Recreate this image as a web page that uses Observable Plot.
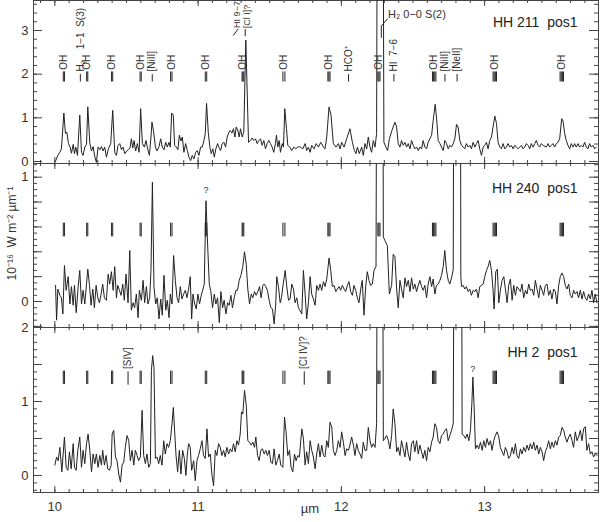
<!DOCTYPE html>
<html><head><meta charset="utf-8">
<script src="https://cdn.jsdelivr.net/npm/d3@7"></script>
<script src="https://cdn.jsdelivr.net/npm/@observablehq/plot@0.6"></script>
<style>
html,body{margin:0;padding:0;background:#fff;}
#chart{position:relative;width:600px;height:522px;overflow:hidden;}
</style></head><body><div id="chart"></div><script>
// ---------- data (wavelength µm, flux 1e-16 W m-2 µm-1) ----------
const hh211 = [
[10.005,0.01],[10.021,0.14],[10.035,0.21],[10.046,0.29],[10.063,1.11],[10.074,0.64],[10.084,0.67],[10.095,0.41],[10.107,0.33],[10.116,0.19],[10.128,0.39],[10.137,0.18],[10.146,0.33],[10.158,0.14],[10.174,1.06],[10.186,0.21],[10.197,0.14],[10.209,0.33],[10.221,0.39],[10.230,1.25],[10.244,0.42],[10.256,0.24],[10.267,0.34],[10.279,0.11],[10.290,-0.02],[10.302,0.33],[10.314,0.27],[10.325,0.34],[10.337,0.24],[10.348,0.33],[10.360,0.10],[10.374,0.29],[10.390,0.41],[10.404,1.17],[10.418,0.21],[10.430,0.14],[10.441,0.37],[10.453,0.41],[10.465,0.27],[10.476,0.33],[10.488,0.18],[10.502,0.24],[10.513,0.27],[10.525,0.31],[10.534,0.52],[10.544,0.31],[10.553,0.48],[10.564,0.24],[10.576,0.41],[10.588,0.21],[10.599,1.21],[10.611,0.41],[10.625,0.33],[10.636,0.48],[10.648,0.29],[10.660,0.14],[10.671,0.56],[10.678,0.90],[10.690,0.67],[10.702,0.33],[10.713,0.24],[10.727,0.34],[10.739,0.52],[10.750,0.33],[10.762,0.27],[10.774,0.44],[10.785,0.33],[10.797,0.44],[10.806,0.33],[10.815,1.11],[10.827,1.06],[10.836,0.37],[10.848,0.33],[10.859,0.27],[10.869,0.60],[10.880,0.47],[10.890,0.56],[10.901,0.21],[10.913,0.41],[10.925,0.25],[10.936,0.10],[10.948,0.02],[10.959,0.14],[10.971,0.06],[10.983,0.21],[10.994,0.25],[11.006,0.14],[11.017,0.33],[11.029,0.33],[11.041,0.48],[11.050,0.64],[11.059,1.33],[11.071,0.67],[11.082,0.33],[11.092,0.18],[11.103,0.29],[11.113,0.10],[11.124,0.29],[11.136,0.41],[11.145,0.33],[11.157,0.25],[11.168,0.41],[11.180,0.44],[11.192,0.33],[11.203,0.56],[11.215,0.67],[11.224,0.71],[11.236,0.65],[11.247,0.75],[11.257,0.56],[11.266,0.79],[11.278,0.70],[11.287,0.56],[11.296,0.75],[11.308,0.56],[11.319,0.67],[11.333,2.78],[11.352,0.44],[11.366,0.48],[11.377,0.54],[11.389,0.48],[11.401,0.52],[11.412,0.41],[11.424,0.48],[11.436,0.52],[11.447,0.37],[11.459,0.48],[11.470,0.29],[11.482,0.41],[11.494,0.48],[11.505,0.41],[11.517,0.33],[11.528,0.21],[11.540,0.41],[11.547,0.60],[11.556,0.33],[11.566,0.48],[11.575,0.21],[11.587,0.41],[11.596,0.33],[11.605,1.21],[11.617,0.75],[11.626,0.37],[11.640,0.33],[11.654,0.25],[11.668,0.33],[11.682,0.29],[11.696,0.33],[11.710,0.34],
[11.731,0.29],[11.747,0.41],[11.758,0.25],[11.770,0.33],[11.782,0.21],[11.793,0.37],[11.810,0.29],[11.824,0.41],[11.840,0.33],[11.856,0.44],[11.875,0.33],[11.886,0.29],[11.898,0.56],[11.914,1.25],[11.928,1.06],[11.944,0.41],[11.963,0.33],[11.979,0.41],[11.991,0.29],[12.002,0.44],[12.019,0.33],[12.037,0.52],[12.060,0.75],[12.077,0.44],[12.091,0.25],[12.102,0.18],[12.112,0.33],[12.125,0.18],[12.142,0.33],[12.153,0.14],[12.165,0.41],[12.177,0.29],[12.188,0.56],[12.200,0.33],[12.211,0.21],[12.223,0.48],[12.235,0.33],[12.246,0.64],[12.252,8],[12.290,8],[12.297,0.44],[12.311,0.33],[12.323,0.25],[12.335,0.52],[12.353,0.71],[12.374,0.90],[12.386,0.79],[12.397,0.41],[12.409,0.33],[12.420,0.48],[12.432,0.37],[12.444,0.44],[12.455,0.33],[12.467,0.41],[12.479,0.29],[12.490,0.48],[12.502,0.37],[12.513,0.29],[12.525,0.33],[12.537,0.25],[12.548,0.33],[12.560,0.29],[12.571,0.48],[12.583,0.33],[12.595,0.29],[12.606,0.44],[12.618,0.52],[12.630,0.60],[12.641,0.94],[12.655,1.31],[12.664,1.02],[12.676,0.48],[12.688,0.41],[12.699,0.33],[12.711,0.25],[12.722,0.48],[12.734,0.41],[12.746,0.29],[12.757,0.37],[12.769,0.33],[12.781,0.41],[12.792,0.52],[12.804,0.85],[12.815,0.79],[12.827,0.48],[12.839,0.37],[12.850,0.33],[12.862,0.29],[12.873,0.41],[12.885,0.33],[12.897,0.37],[12.908,0.29],[12.920,0.44],[12.932,0.33],[12.943,0.41],[12.955,0.48],[12.966,0.29],[12.978,0.14],[12.990,0.33],[13.001,0.37],[13.013,0.44],[13.024,0.29],[13.036,0.48],[13.048,0.56],[13.059,0.79],[13.071,1.04],[13.083,0.87],[13.094,0.44],[13.106,0.33],[13.117,0.29],[13.129,0.41],[13.141,0.29],[13.152,0.33],[13.164,0.41],[13.175,0.33],[13.187,0.37],[13.199,0.29],[13.210,0.37],[13.222,0.33],[13.233,0.29],[13.245,0.33],[13.257,0.37],[13.268,0.29],[13.280,0.33],[13.292,0.41],[13.303,0.37],[13.315,0.29],[13.326,0.41],[13.338,0.33],[13.350,0.41],[13.361,0.48],[13.373,0.37],[13.384,0.33],[13.396,0.41],[13.408,0.37],[13.431,0.33],[13.443,0.41],[13.454,0.33],[13.466,0.37],[13.477,0.41],[13.489,0.33],[13.501,0.41],[13.512,0.44],[13.524,0.52],[13.538,0.98],[13.547,0.93],[13.559,0.64],[13.570,0.48],[13.582,0.37],[13.594,0.29],[13.605,0.41],[13.617,0.33],[13.628,0.41],[13.640,0.33],[13.652,0.41],[13.663,0.33],[13.675,0.37],[13.686,0.33],[13.698,0.44],[13.710,0.33],[13.721,0.29],[13.733,0.41],[13.745,0.33],[13.756,0.37],[13.768,0.29],[13.779,0.33]
];
const hh240 = [
[10.005,0.13],[10.012,-0.15],[10.021,0.10],[10.035,0.05],[10.046,0.03],[10.056,-0.10],[10.067,0.29],[10.079,0.09],[10.093,0.20],[10.105,-0.02],[10.116,0.12],[10.128,-0.03],[10.137,0.13],[10.149,-0.09],[10.163,0.12],[10.174,0.25],[10.186,-0.02],[10.197,0.09],[10.209,-0.02],[10.221,0.14],[10.230,0.26],[10.242,0.13],[10.253,-0.03],[10.265,0.10],[10.276,-0.05],[10.288,0.13],[10.300,0.03],[10.311,-0.01],[10.323,0.06],[10.334,0.14],[10.346,0.03],[10.360,0.01],[10.372,0.22],[10.383,0.14],[10.395,0.24],[10.407,0.09],[10.418,0.28],[10.430,0.03],[10.439,0.13],[10.451,0.09],[10.462,0.05],[10.474,0.14],[10.485,0.01],[10.497,0.22],[10.511,-0.01],[10.523,0.41],[10.534,-0.07],[10.546,-0.01],[10.557,-0.05],[10.569,0.06],[10.581,-0.13],[10.590,0.09],[10.604,0.01],[10.616,0.17],[10.627,-0.01],[10.639,0.12],[10.650,-0.02],[10.662,0.03],[10.671,0.25],[10.681,0.96],[10.692,0.12],[10.704,-0.02],[10.715,0.03],[10.727,-0.14],[10.739,0.02],[10.750,-0.11],[10.762,0.21],[10.774,-0.07],[10.785,0.01],[10.797,-0.13],[10.806,0.06],[10.818,-0.02],[10.829,0.37],[10.841,0.17],[10.853,0.03],[10.864,-0.01],[10.876,0.12],[10.887,0.02],[10.899,0.06],[10.911,0.09],[10.922,0.03],[10.934,0.10],[10.945,0.20],[10.955,-0.14],[10.964,0.06],[10.976,-0.02],[10.987,-0.06],[10.999,0.06],[11.010,-0.02],[11.022,0.05],[11.034,0.10],[11.043,0.14],[11.055,0.81],[11.066,0.47],[11.078,0.14],[11.089,0.08],[11.101,-0.05],[11.113,0.06],[11.124,-0.02],[11.136,0.03],[11.148,-0.17],[11.159,0.08],[11.171,-0.05],[11.182,0.01],[11.194,-0.10],[11.206,-0.01],[11.217,-0.03],[11.229,0.05],[11.240,-0.05],[11.252,0.03],[11.264,0.09],[11.275,0.09],[11.287,0.17],[11.299,0.21],[11.312,0.28],[11.324,0.40],[11.336,0.30],[11.347,0.10],[11.359,-0.02],[11.371,0.06],[11.382,0.03],[11.394,0.08],[11.405,0.05],[11.417,0.08],[11.429,0.12],[11.440,0.03],[11.452,0.13],[11.461,0.14],[11.473,0.12],[11.484,0.09],[11.496,0.01],[11.508,-0.05],[11.519,-0.06],[11.531,-0.18],[11.542,-0.02],[11.549,0.20],[11.561,0.12],[11.573,-0.01],[11.582,0.03],[11.594,0.14],[11.608,0.25],[11.619,0.12],[11.631,0.01],[11.642,0.02],[11.654,0.14],[11.666,0.10],[11.677,-0.01],[11.689,0.03],[11.700,-0.05],
[11.724,-0.10],[11.735,0.25],[11.747,0.06],[11.758,-0.14],[11.770,-0.01],[11.782,0.20],[11.793,0.06],[11.805,0.02],[11.817,-0.03],[11.828,0.13],[11.840,0.09],[11.851,0.14],[11.863,0.09],[11.875,0.16],[11.886,0.12],[11.898,0.18],[11.914,0.35],[11.926,0.25],[11.937,0.12],[11.949,0.13],[11.961,0.08],[11.972,0.10],[11.984,0.12],[11.995,0.09],[12.007,0.13],[12.019,0.10],[12.030,0.08],[12.042,0.13],[12.053,0.16],[12.065,0.08],[12.077,0.05],[12.088,0.13],[12.100,0.09],[12.112,0.03],[12.123,-0.01],[12.135,0.10],[12.146,0.17],[12.158,-0.11],[12.170,0.12],[12.181,0.24],[12.193,0.17],[12.204,0.13],[12.216,0.14],[12.228,0.25],[12.242,0.28],[12.251,4],[12.286,4],[12.293,0.52],[12.304,0.49],[12.321,0.45],[12.335,0.06],[12.351,0.13],[12.362,0.38],[12.374,0.36],[12.386,0.10],[12.397,-0.05],[12.409,0.17],[12.420,0.10],[12.432,0.03],[12.444,0.19],[12.455,0.12],[12.467,0.17],[12.479,0.08],[12.490,0.19],[12.502,0.10],[12.513,0.14],[12.525,0.08],[12.537,0.13],[12.548,0.17],[12.560,0.12],[12.571,0.09],[12.583,0.13],[12.595,0.03],[12.606,0.14],[12.618,0.20],[12.630,0.12],[12.641,0.18],[12.653,0.06],[12.664,0.13],[12.676,0.14],[12.688,0.17],[12.699,0.21],[12.711,0.28],[12.722,0.41],[12.734,0.25],[12.746,0.17],[12.757,0.14],[12.769,0.19],[12.781,0.26],[12.788,4],[12.829,4],[12.834,0.20],[12.839,0.12],[12.850,0.13],[12.862,0.10],[12.873,0.12],[12.885,0.08],[12.897,0.10],[12.908,0.05],[12.920,0.09],[12.932,0.08],[12.943,0.10],[12.955,0.03],[12.966,0.12],[12.978,0.13],[12.990,0.14],[13.001,0.20],[13.013,0.25],[13.024,0.28],[13.036,0.33],[13.048,0.25],[13.059,0.09],[13.066,-0.06],[13.078,0.24],[13.089,0.26],[13.099,-0.01],[13.110,0.09],[13.122,0.17],[13.134,0.20],[13.145,0.10],[13.157,-0.01],[13.168,0.13],[13.180,0.18],[13.192,0.01],[13.203,0.13],[13.215,0.05],[13.226,0.12],[13.238,0.10],[13.250,0.08],[13.261,0.14],[13.273,0.03],[13.285,0.09],[13.296,0.06],[13.308,0.14],[13.319,0.09],[13.331,0.10],[13.343,0.05],[13.354,0.17],[13.366,0.10],[13.378,0.03],[13.389,0.13],[13.401,0.09],[13.412,0.05],[13.424,0.13],[13.436,0.14],[13.447,0.05],[13.459,0.09],[13.470,0.02],[13.482,0.10],[13.494,0.08],[13.505,-0.02],[13.517,0.13],[13.528,0.20],[13.540,0.23],[13.552,0.20],[13.563,0.13],[13.575,0.10],[13.587,0.14],[13.598,0.05],[13.610,0.03],[13.621,0.09],[13.633,0.06],[13.645,0.08],[13.656,0.03],[13.668,0.09],[13.680,0.02],[13.691,0.08],[13.703,0.03],[13.714,0.01],[13.726,0.06],[13.738,0.02],[13.749,0.09],[13.761,-0.01],[13.772,0.06],[13.784,-0.01]
];
const hh2 = [
[10.000,0.14],[10.012,0.25],[10.023,0.20],[10.035,0.38],[10.049,0.05],[10.058,0.29],[10.067,0.52],[10.079,0.11],[10.091,0.07],[10.102,0.32],[10.114,0.09],[10.128,0.43],[10.137,0.11],[10.149,0.07],[10.160,0.34],[10.174,0.52],[10.186,0.11],[10.197,0.34],[10.209,0.16],[10.221,0.43],[10.232,0.56],[10.244,0.34],[10.256,0.05],[10.267,0.29],[10.279,0.16],[10.290,0.29],[10.302,0.11],[10.314,0.27],[10.325,0.14],[10.334,0.34],[10.346,0.14],[10.358,0.27],[10.369,0.09],[10.381,0.07],[10.393,0.14],[10.400,0.56],[10.411,0.61],[10.423,0.25],[10.434,0.20],[10.446,0.02],[10.458,-0.09],[10.469,0.14],[10.481,0.18],[10.492,0.38],[10.504,0.54],[10.516,0.47],[10.527,0.20],[10.539,0.34],[10.551,0.14],[10.562,0.34],[10.574,0.27],[10.585,0.20],[10.597,0.25],[10.609,0.88],[10.620,0.27],[10.632,0.16],[10.643,0.29],[10.655,0.11],[10.667,0.16],[10.674,1.42],[10.683,1.62],[10.692,1.46],[10.702,0.23],[10.713,0.25],[10.725,0.16],[10.736,0.27],[10.748,0.14],[10.760,0.47],[10.771,0.29],[10.783,0.43],[10.794,0.38],[10.806,0.47],[10.818,0.70],[10.827,0.92],[10.836,0.61],[10.846,0.27],[10.857,0.05],[10.869,0.34],[10.880,0.02],[10.892,0.34],[10.904,0.23],[10.915,0.00],[10.925,0.29],[10.934,0.43],[10.945,0.38],[10.955,0.07],[10.969,0.20],[10.980,-0.07],[10.992,0.20],[11.003,0.27],[11.015,0.36],[11.027,0.47],[11.038,0.27],[11.050,0.23],[11.062,0.63],[11.073,0.25],[11.085,0.29],[11.096,0.02],[11.108,-0.14],[11.120,0.34],[11.131,0.27],[11.143,0.43],[11.155,0.38],[11.166,0.27],[11.178,0.34],[11.189,0.25],[11.201,0.38],[11.213,0.29],[11.224,0.36],[11.236,0.32],[11.247,0.43],[11.259,0.32],[11.271,0.47],[11.282,0.41],[11.294,0.56],[11.303,0.86],[11.312,0.83],[11.324,1.15],[11.336,0.95],[11.347,0.47],[11.359,0.45],[11.371,0.41],[11.382,0.45],[11.394,0.38],[11.403,0.52],[11.415,0.27],[11.426,0.20],[11.438,0.34],[11.449,0.36],[11.461,0.29],[11.473,0.34],[11.484,0.27],[11.496,0.34],[11.508,0.18],[11.519,0.16],[11.531,0.36],[11.542,0.14],[11.554,0.20],[11.566,0.29],[11.577,0.14],[11.592,0.11],[11.603,0.79],[11.614,0.59],[11.626,0.27],[11.638,0.34],[11.649,0.11],[11.661,0.05],[11.673,0.29],[11.684,0.20],[11.696,0.27],[11.707,0.25],
[11.724,0.63],[11.735,0.50],[11.747,0.14],[11.758,0.32],[11.770,0.16],[11.782,0.47],[11.793,0.34],[11.805,0.25],[11.817,0.09],[11.828,0.29],[11.840,0.43],[11.851,0.25],[11.863,0.41],[11.875,0.27],[11.886,0.25],[11.898,0.47],[11.909,0.38],[11.921,0.72],[11.933,0.65],[11.944,0.34],[11.956,0.27],[11.968,0.34],[11.979,0.47],[11.991,0.38],[12.002,0.59],[12.014,0.45],[12.026,0.27],[12.037,0.36],[12.049,0.34],[12.060,0.41],[12.072,0.52],[12.084,0.41],[12.095,0.27],[12.107,0.43],[12.118,0.34],[12.130,0.29],[12.142,0.23],[12.153,0.45],[12.165,0.34],[12.177,0.34],[12.188,0.65],[12.200,0.47],[12.211,0.38],[12.223,0.43],[12.235,0.38],[12.246,0.70],[12.251,4],[12.288,4],[12.293,0.47],[12.304,0.50],[12.316,0.54],[12.328,0.47],[12.339,0.36],[12.351,0.54],[12.362,0.90],[12.374,0.70],[12.386,0.32],[12.397,0.38],[12.409,0.27],[12.420,0.47],[12.432,0.36],[12.444,0.25],[12.455,0.45],[12.467,0.29],[12.479,0.20],[12.490,0.43],[12.502,0.47],[12.513,0.32],[12.525,0.47],[12.537,0.29],[12.548,0.41],[12.560,0.32],[12.571,0.23],[12.583,0.34],[12.595,0.20],[12.606,0.38],[12.618,0.32],[12.630,0.45],[12.641,0.52],[12.653,0.70],[12.664,0.65],[12.676,0.47],[12.688,0.43],[12.699,0.54],[12.711,0.56],[12.722,0.61],[12.734,0.63],[12.746,0.47],[12.757,0.54],[12.769,0.61],[12.781,0.70],[12.788,4],[12.839,4],[12.843,0.56],[12.855,0.54],[12.866,0.50],[12.878,0.56],[12.890,0.47],[12.901,0.61],[12.911,0.97],[12.918,1.33],[12.927,0.92],[12.936,0.36],[12.948,0.41],[12.959,0.36],[12.971,0.45],[12.983,0.34],[12.994,0.47],[13.006,0.38],[13.017,0.50],[13.029,0.41],[13.041,0.47],[13.052,0.34],[13.064,0.47],[13.075,0.54],[13.087,0.59],[13.099,0.52],[13.110,0.38],[13.122,0.32],[13.134,0.27],[13.145,0.38],[13.157,0.32],[13.168,0.23],[13.180,0.27],[13.192,0.38],[13.203,0.29],[13.215,0.43],[13.226,0.27],[13.238,0.23],[13.250,0.36],[13.261,0.29],[13.273,0.38],[13.285,0.32],[13.296,0.41],[13.308,0.34],[13.319,0.43],[13.331,0.36],[13.343,0.45],[13.354,0.34],[13.366,0.41],[13.378,0.29],[13.389,0.38],[13.401,0.32],[13.412,0.20],[13.424,0.32],[13.436,0.38],[13.447,0.47],[13.459,0.36],[13.470,0.45],[13.482,0.38],[13.494,0.47],[13.505,0.41],[13.517,0.52],[13.528,0.54],[13.540,0.65],[13.552,0.61],[13.563,0.52],[13.575,0.45],[13.587,0.52],[13.598,0.56],[13.610,0.47],[13.621,0.38],[13.633,0.59],[13.645,0.47],[13.656,0.52],[13.668,0.61],[13.680,0.47],[13.691,0.63],[13.703,0.66],[13.714,0.34],[13.726,0.43],[13.738,0.29],[13.749,0.32],[13.761,0.25],[13.772,0.29],[13.786,0.27]
];
// OH line groups (µm)
const ohGroups = [
  [10.059,10.067],[10.222,10.230],[10.396,10.404],[10.595,10.603],[10.808,10.818],
  [11.050,11.060],[11.307,11.313,11.319],[11.592,11.606],[11.906,11.913,11.921],
  [12.255,12.262,12.270],[12.636,12.644,12.652,12.660],[13.059,13.067,13.075,13.083],
  [13.527,13.535,13.543,13.551]
];
// single line identifications (panel HH 211)
const p1Lines = [
  {wl:10.178, label:"H\u2082\u00a0\u00a0\u00a0\u00a01\u22121\u00a0\u00a0S(3)"},
  {wl:10.680, label:"[NiII]"},
  {wl:12.050, label:"HCO\u207a"},
  {wl:12.367, label:"HI\u00a0\u00a07\u22126"},
  {wl:12.723, label:"[NiII]"},
  {wl:12.808, label:"[NeII]"}
];
const p3Lines = [
  {wl:10.511, label:"[SIV]"},
  {wl:11.741, label:"[Cl IV]?"}
];
const titles = ["HH 211\u00a0\u00a0pos1", "HH 240\u00a0\u00a0pos1", "HH 2\u00a0\u00a0pos1"];
const xTickLabels = [10, 11, 12, 13];
const yLabel = "10\u207b\u00b9\u2076\u00a0\u00a0W m\u207b\u00b2 \u00b5m\u207b\u00b9";

// ---------- layout ----------
const W = 600, ML = 33, MR = 2;
const X_DOMAIN = [9.851, 13.795];
const AX = "#444", INK = "#222";
const FONT = "'Liberation Sans', Arial, Helvetica, sans-serif";
const fmt = d => String(d);
const xMinor = d3.range(99, 139).map(i => i / 10).filter(v => v >= X_DOMAIN[0] && v <= X_DOMAIN[1]);
const ohFlat = ohGroups.flat();
const ohCenters = ohGroups.map(g => d3.mean(g));

function ticks(lo, hi, step) {
  const out = [];
  const n = Math.round((hi - lo) / step);
  for (let i = 0; i <= n; i++) out.push(+(lo + i * step).toFixed(4));
  return out;
}

function panel(o) {
  const plotH = o.height - o.marginBottom;
  const plotW = W - ML - MR;
  const inY = v => v >= o.yDomain[0] - 1e-9 && v <= o.yDomain[1] + 1e-9;
  const yMaj = o.yMajor.filter(inY), yMin = o.yMinor.filter(inY);
  const marks = [
    Plot.ruleX(xMinor, {insetTop: plotH - 3, stroke: AX}),
    Plot.ruleX(xTickLabels, {insetTop: plotH - 6, stroke: AX}),
    Plot.ruleX(xMinor, {insetBottom: plotH - 3, stroke: AX}),
    Plot.ruleX(xTickLabels, {insetBottom: plotH - 6, stroke: AX}),
    Plot.ruleY(yMin, {insetRight: plotW - 4, stroke: AX}),
    Plot.ruleY(yMaj, {insetRight: plotW - 9, stroke: AX}),
    Plot.ruleY(yMin, {insetLeft: plotW - 4, stroke: AX}),
    Plot.ruleY(yMaj, {insetLeft: plotW - 9, stroke: AX}),
    Plot.axisY(o.yLabels, {anchor: "left", tickSize: 0, tickPadding: 5, label: null, tickFormat: fmt, fontSize: 13, fill: "#333"}),
    Plot.frame({stroke: AX}),
    Plot.ruleX(ohFlat, {y1: o.ohY[0], y2: o.ohY[1], stroke: INK, strokeWidth: 1}),
    Plot.line(o.data, {x: d => d[0], y: d => d[1], stroke: INK, strokeWidth: 1, clip: true}),
    Plot.text([o.title], {text: d => d, frameAnchor: "top-right", dx: -21, dy: o.titleDy, textAnchor: "end", fontSize: 14, fill: INK})
  ];
  if (o.extra) marks.push(...o.extra);
  const svg = Plot.plot({
    width: W, height: o.height,
    marginLeft: ML, marginRight: MR, marginTop: 0, marginBottom: o.marginBottom,
    x: {domain: X_DOMAIN, axis: null},
    y: {domain: o.yDomain, axis: null},
    style: {fontFamily: FONT, fontSize: "13px", color: "#333", background: "transparent", overflow: "visible"},
    marks
  });
  svg.style.position = "absolute";
  svg.style.left = "0px";
  svg.style.top = o.top + "px";
  return svg;
}

const labelFont = 10;
const p1Extra = [
  Plot.text(ohCenters, {x: d => d, y: 2.10, text: () => "OH", rotate: -90, textAnchor: "start", lineAnchor: "middle", fontSize: labelFont, fill: "#333"}),
  Plot.ruleX(p1Lines, {x: d => d.wl, y1: 1.82, y2: 1.99, stroke: INK}),
  Plot.text(p1Lines, {x: d => d.wl, y: 2.06, text: d => d.label, rotate: -90, textAnchor: "start", lineAnchor: "middle", fontSize: labelFont, fill: "#333"}),
  Plot.ruleX([11.329], {x: d => d, y1: 2.86, y2: 3.02, stroke: INK}),
  Plot.text(["[Cl I]?"], {x: 11.341, y: 3.05, text: d => d, rotate: -90, textAnchor: "start", lineAnchor: "middle", fontSize: 9, fill: "#333"}),
  Plot.link([{x1: 11.245, y1: 2.885, x2: 11.280, y2: 3.04}], {x1: "x1", y1: "y1", x2: "x2", y2: "y2", stroke: INK}),
  Plot.text(["HI 9\u22127"], {x: 11.270, y: 3.06, text: d => d, rotate: -90, textAnchor: "start", lineAnchor: "middle", fontSize: 9, fill: "#333"}),
  Plot.ruleX([12.279], {x: d => d, y1: 2.82, y2: 3.10, stroke: INK}),
  Plot.link([{x1: 12.279, y1: 3.10, x2: 12.322, y2: 3.27}], {x1: "x1", y1: "y1", x2: "x2", y2: "y2", stroke: INK}),
  Plot.text(["H\u2082 0\u22120 S(2)"], {x: 12.326, y: 3.37, text: d => d, textAnchor: "start", fontSize: 11, fill: "#333"})
];
const p2Extra = [
  Plot.text(["?"], {x: 11.055, y: 0.90, text: d => d, fontSize: 9, fill: "#333"}),
  Plot.text([yLabel], {text: d => d, frameAnchor: "left", dx: -21, dy: -12, rotate: -90, textAnchor: "middle", lineAnchor: "middle", fontSize: 12, fill: "#333"})
];
const p3Extra = [
  Plot.ruleX(p3Lines, {x: d => d.wl, y1: 1.22, y2: 1.40, stroke: INK}),
  Plot.text(p3Lines, {x: d => d.wl, y: 1.44, text: d => d.label, rotate: -90, textAnchor: "start", lineAnchor: "middle", fontSize: labelFont, fill: "#333"}),
  Plot.text(["?"], {x: 12.918, y: 1.44, text: d => d, fontSize: 9, fill: "#333"}),
  Plot.axisX(xTickLabels, {anchor: "bottom", tickSize: 0, tickPadding: 9, label: null, tickFormat: fmt, fontSize: 13, fill: "#333"}),
  Plot.text(["\u00b5m"], {text: d => d, frameAnchor: "bottom", dx: -6, dy: 20, textAnchor: "middle", fontSize: 13, fill: "#333"})
];

const chart = document.getElementById("chart");
chart.appendChild(panel({
  data: hh211, top: 0, height: 164, marginBottom: 1,
  yDomain: [-0.046, 3.687], yMajor: ticks(0, 3, 1), yMinor: ticks(0, 3.6, 0.2), yLabels: [0, 1, 2, 3],
  ohY: [1.82, 2.05], title: titles[0], titleDy: 17, extra: p1Extra
}));
chart.appendChild(panel({
  data: hh240, top: 163, height: 165, marginBottom: 1,
  yDomain: [-0.209, 1.110], yMajor: ticks(-0.2, 1.0, 0.2), yMinor: ticks(-0.2, 1.1, 0.05), yLabels: [0, 1],
  ohY: [0.52, 0.63], title: titles[1], titleDy: 20, extra: p2Extra
}));
chart.appendChild(panel({
  data: hh2, top: 327, height: 195, marginBottom: 30,
  yDomain: [-0.230, 2.0], yMajor: ticks(0, 2, 0.5), yMinor: ticks(-0.2, 2, 0.1), yLabels: [0, 1, 2],
  ohY: [1.23, 1.41], title: titles[2], titleDy: 19.5, extra: p3Extra
}));
</script></body></html>
